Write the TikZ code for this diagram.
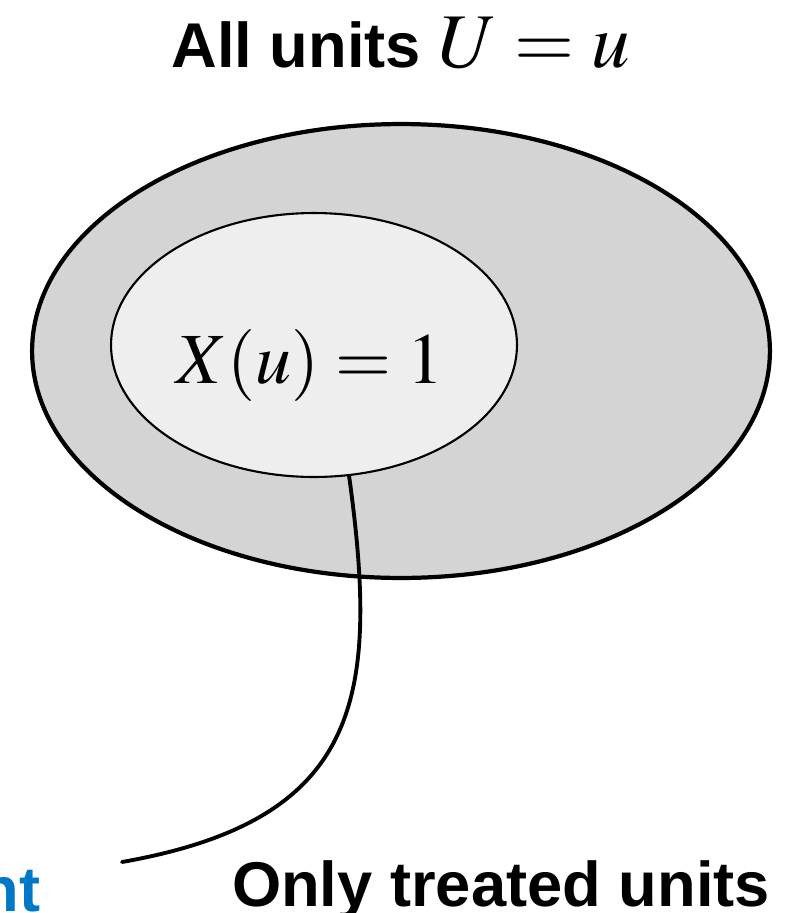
\documentclass[tikz,border=0pt]{standalone}
\usepackage{mathptmx}
\usepackage{fontspec}
\newfontfamily\labelfont{Liberation Sans}
\usepackage{tikz}
\usetikzlibrary{shapes.geometric}
\usepackage{xcolor}
\definecolor{allgray}{HTML}{D4D4D4}
\definecolor{treatgray}{HTML}{EEEEEE}
\definecolor{noteblue}{HTML}{0078C8}

\begin{document}
\begin{tikzpicture}[x=0.02cm,y=-0.02cm,line cap=round,
  setshape/.style={ellipse,draw,inner sep=0pt},
  bigtext/.style={font=\labelfont\fontsize{36}{40}\selectfont\bfseries,inner sep=0pt,anchor=base}]
\useasboundingbox (0,0) rectangle (796,913);
\node[setshape,fill=allgray,line width=2.4pt,minimum width=14.76cm,minimum height=9.08cm] (outer) at (401,351) {};
\node[setshape,fill=treatgray,line width=1.2pt,minimum width=8.12cm,minimum height=5.28cm] (inner) at (314,345) {};
\node[inner sep=0pt,anchor=base,font=\fontsize{41}{45}\selectfont] (xu) at (310,383) {$X(u)=1$};
\node[bigtext] (title) at (401,67) {All units \fontsize{44}{48}\selectfont$U=u$};
\node[bigtext] (treated) at (501,906) {Only treated units};
\node[bigtext,anchor=base east,text=noteblue] (cut) at (41,911) {nt};
\coordinate (tail) at (122,862);
\draw[line width=2.2pt] (inner.-75) .. controls (380,700) and (360,820) .. (tail);
\end{tikzpicture}
\end{document}
